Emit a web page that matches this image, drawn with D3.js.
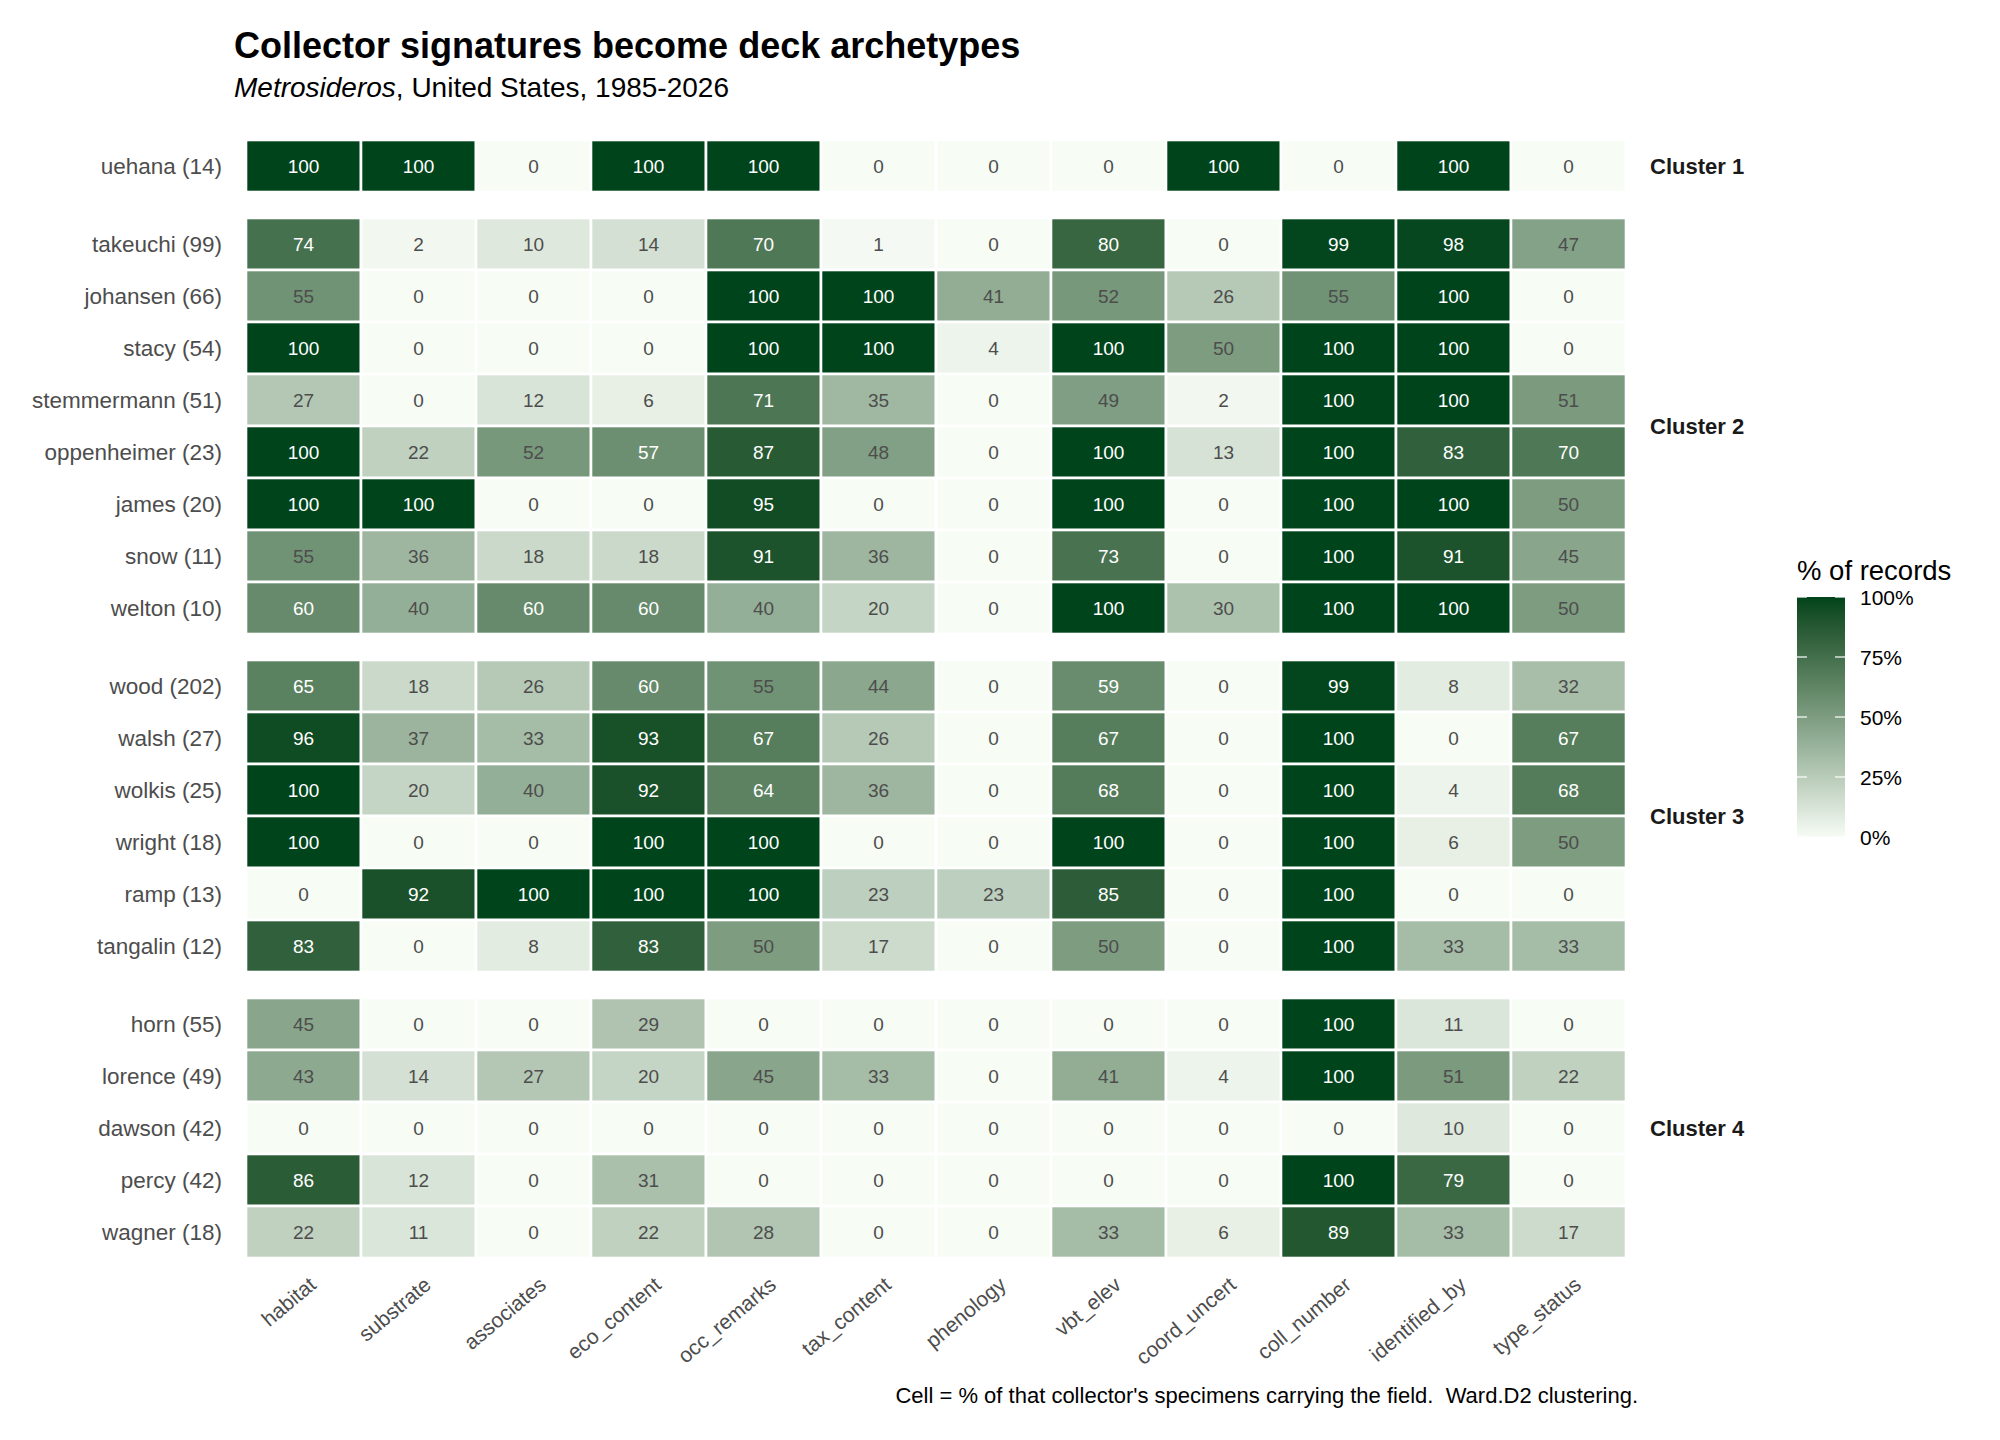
<!DOCTYPE html>
<html>
<head>
<meta charset="utf-8">
<script src="https://cdn.jsdelivr.net/npm/d3@7"></script>
<style>
  html, body { margin: 0; padding: 0; background: #fff; }
  svg text { font-family: "Liberation Sans", Arial, Helvetica, sans-serif; }
</style>
</head>
<body>
<svg id="chart" width="2000" height="1440"></svg>
<script>
// ---------------- data ----------------
const fields = ["habitat","substrate","associates","eco_content","occ_remarks","tax_content",
                "phenology","vbt_elev","coord_uncert","coll_number","identified_by","type_status"];

const collectors = ["uehana","takeuchi","johansen","stacy","stemmermann","oppenheimer","james","snow","welton",
                    "wood","walsh","wolkis","wright","ramp","tangalin",
                    "horn","lorence","dawson","percy","wagner"];

const nRecords = [14, 99, 66, 54, 51, 23, 20, 11, 10, 202, 27, 25, 18, 13, 12, 55, 49, 42, 42, 18];

const clusterOf = [1, 2,2,2,2,2,2,2,2, 3,3,3,3,3,3, 4,4,4,4,4];

const clusterNames = ["Cluster 1","Cluster 2","Cluster 3","Cluster 4"];

const pctValues = [
  [100,100,  0,100,100,  0,  0,  0,100,  0,100,  0], // uehana
  [ 74,  2, 10, 14, 70,  1,  0, 80,  0, 99, 98, 47], // takeuchi
  [ 55,  0,  0,  0,100,100, 41, 52, 26, 55,100,  0], // johansen
  [100,  0,  0,  0,100,100,  4,100, 50,100,100,  0], // stacy
  [ 27,  0, 12,  6, 71, 35,  0, 49,  2,100,100, 51], // stemmermann
  [100, 22, 52, 57, 87, 48,  0,100, 13,100, 83, 70], // oppenheimer
  [100,100,  0,  0, 95,  0,  0,100,  0,100,100, 50], // james
  [ 55, 36, 18, 18, 91, 36,  0, 73,  0,100, 91, 45], // snow
  [ 60, 40, 60, 60, 40, 20,  0,100, 30,100,100, 50], // welton
  [ 65, 18, 26, 60, 55, 44,  0, 59,  0, 99,  8, 32], // wood
  [ 96, 37, 33, 93, 67, 26,  0, 67,  0,100,  0, 67], // walsh
  [100, 20, 40, 92, 64, 36,  0, 68,  0,100,  4, 68], // wolkis
  [100,  0,  0,100,100,  0,  0,100,  0,100,  6, 50], // wright
  [  0, 92,100,100,100, 23, 23, 85,  0,100,  0,  0], // ramp
  [ 83,  0,  8, 83, 50, 17,  0, 50,  0,100, 33, 33], // tangalin
  [ 45,  0,  0, 29,  0,  0,  0,  0,  0,100, 11,  0], // horn
  [ 43, 14, 27, 20, 45, 33,  0, 41,  4,100, 51, 22], // lorence
  [  0,  0,  0,  0,  0,  0,  0,  0,  0,  0, 10,  0], // dawson
  [ 86, 12,  0, 31,  0,  0,  0,  0,  0,100, 79,  0], // percy
  [ 22, 11,  0, 22, 28,  0,  0, 33,  6, 89, 33, 17]  // wagner
];

const legendTicks = [0, 25, 50, 75, 100];

// ---------------- layout ----------------
const svg = d3.select("#chart");
const plotLeft = 246, plotRight = 1626, plotTop = 140, plotBottom = 1258;
const gapUnits = 0.5;

// position of each row in "row units" including cluster gaps
const rowPos = collectors.map((c, i) => i + gapUnits * (clusterOf[i] - 1));
const totalUnits = collectors.length + gapUnits * (clusterNames.length - 1);

const x = d3.scaleBand().domain(fields).range([plotLeft, plotRight]).padding(0);
const y = d3.scaleLinear().domain([0, totalUnits]).range([plotTop, plotBottom]);
const color = d3.scaleLinear().domain([0, 100]).range(["#f7fcf5", "#00441b"]).interpolate(d3.interpolateLab);

// ---------------- title ----------------
svg.append("text").attr("x", 234).attr("y", 58)
  .attr("font-size", 36).attr("font-weight", "bold").attr("fill", "#000")
  .text("Collector signatures become deck archetypes");

const sub = svg.append("text").attr("x", 234).attr("y", 97)
  .attr("font-size", 28).attr("fill", "#000");
sub.append("tspan").attr("font-style", "italic").text("Metrosideros");
sub.append("tspan").text(", United States, 1985-2026");

// ---------------- cells ----------------
const cells = [];
pctValues.forEach((row, i) => row.forEach((v, j) => cells.push({ i, j, v })));

const g = svg.append("g");
g.selectAll("rect.cell").data(cells).enter().append("rect")
  .attr("class", "cell")
  .attr("x", d => x(fields[d.j]))
  .attr("y", d => y(rowPos[d.i]))
  .attr("width", x.bandwidth())
  .attr("height", d => y(rowPos[d.i] + 1) - y(rowPos[d.i]))
  .attr("fill", d => color(d.v))
  .attr("stroke", "#fff")
  .attr("stroke-width", 2.6);

g.selectAll("text.val").data(cells).enter().append("text")
  .attr("class", "val")
  .attr("x", d => x(fields[d.j]) + x.bandwidth() / 2)
  .attr("y", d => (y(rowPos[d.i]) + y(rowPos[d.i] + 1)) / 2)
  .attr("text-anchor", "middle")
  .attr("dominant-baseline", "central")
  .attr("font-size", 19)
  .attr("fill", d => d.v > 55 ? "#ffffff" : "#4d4d4d")
  .text(d => d.v);

// ---------------- y labels ----------------
svg.append("g").selectAll("text").data(collectors).enter().append("text")
  .attr("x", 222)
  .attr("y", (d, i) => (y(rowPos[i]) + y(rowPos[i] + 1)) / 2)
  .attr("text-anchor", "end")
  .attr("dominant-baseline", "central")
  .attr("font-size", 22.5)
  .attr("fill", "#4d4d4d")
  .text((d, i) => `${d} (${nRecords[i]})`);

// ---------------- x labels ----------------
svg.append("g").selectAll("text").data(fields).enter().append("text")
  .attr("transform", d => `translate(${x(d) + x.bandwidth() / 2 + 14},${1287}) rotate(-40)`)
  .attr("text-anchor", "end")
  .attr("font-size", 21)
  .attr("fill", "#4d4d4d")
  .text(d => d);

// ---------------- cluster labels ----------------
clusterNames.forEach((name, k) => {
  const idx = clusterOf.map((c, i) => c === k + 1 ? i : -1).filter(i => i >= 0);
  const y0 = y(rowPos[idx[0]]);
  const y1 = y(rowPos[idx[idx.length - 1]] + 1);
  svg.append("text")
    .attr("x", 1650).attr("y", (y0 + y1) / 2)
    .attr("dominant-baseline", "central")
    .attr("font-size", 22).attr("font-weight", "bold").attr("fill", "#1a1a1a")
    .text(name);
});

// ---------------- legend ----------------
const lgX = 1797, lgW = 48, lgTop = 597, lgBottom = 837;
const ly = d3.scaleLinear().domain([0, 100]).range([lgBottom, lgTop]);

const defs = svg.append("defs");
const grad = defs.append("linearGradient").attr("id", "lg")
  .attr("x1", 0).attr("y1", 1).attr("x2", 0).attr("y2", 0);
d3.range(0, 101, 5).forEach(t => {
  grad.append("stop").attr("offset", t / 100).attr("stop-color", color(t));
});

svg.append("text").attr("x", lgX).attr("y", 580)
  .attr("font-size", 27.5).attr("fill", "#000").text("% of records");

svg.append("rect").attr("x", lgX).attr("y", lgTop).attr("width", lgW).attr("height", lgBottom - lgTop)
  .attr("fill", "url(#lg)");

const lt = svg.append("g");
legendTicks.forEach(t => {
  lt.append("line").attr("x1", lgX).attr("x2", lgX + 10).attr("y1", ly(t)).attr("y2", ly(t))
    .attr("stroke", "#fff").attr("stroke-width", 1.2);
  lt.append("line").attr("x1", lgX + lgW - 10).attr("x2", lgX + lgW).attr("y1", ly(t)).attr("y2", ly(t))
    .attr("stroke", "#fff").attr("stroke-width", 1.2);
  lt.append("text").attr("x", 1860).attr("y", ly(t))
    .attr("dominant-baseline", "central")
    .attr("font-size", 21).attr("fill", "#000").text(t + "%");
});

// ---------------- caption ----------------
svg.append("text").attr("x", 1638).attr("y", 1403)
  .attr("text-anchor", "end").attr("font-size", 22).attr("fill", "#000")
  .attr("xml:space", "preserve").style("white-space", "pre")
  .text("Cell = % of that collector's specimens carrying the field.  Ward.D2 clustering.");
</script>
</body>
</html>
